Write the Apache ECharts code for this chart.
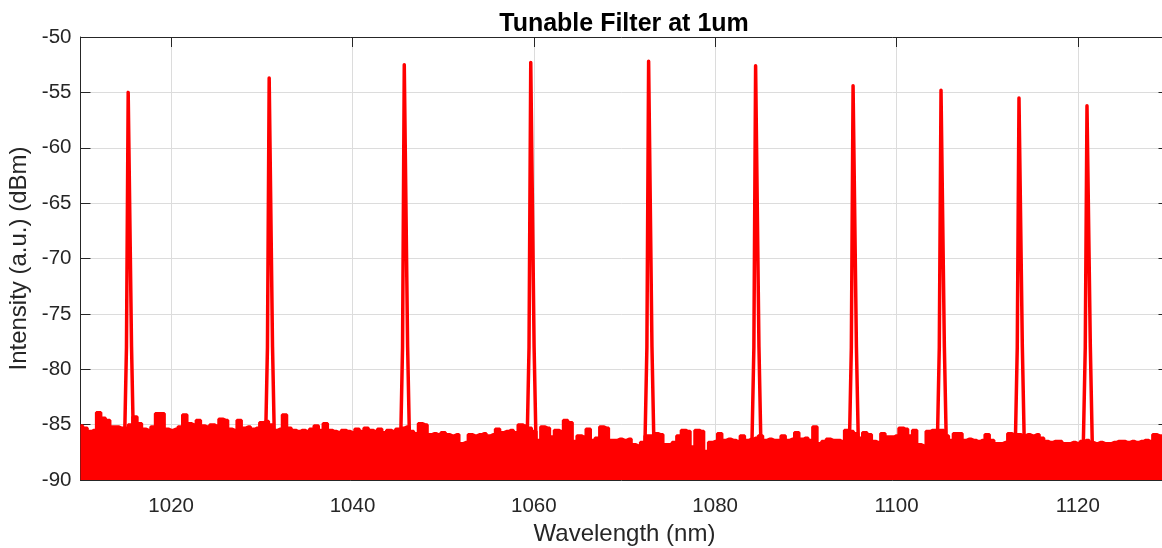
<!DOCTYPE html>
<html>
<head>
<meta charset="utf-8">
<script src="https://cdn.jsdelivr.net/npm/echarts@6/dist/echarts.min.js"></script>
<style>
html,body{margin:0;padding:0;background:#fff;overflow:hidden;}
#chart{width:1162px;height:548px;}
</style>
</head>
<body>
<div id="chart"></div>
<script>
// ---- data ----
const titleText = 'Tunable Filter at 1um';
const xName = 'Wavelength (nm)';
const yName = 'Intensity (a.u.) (dBm)';

// noise floor: upper envelope sampled every 0.5 nm starting at 1010 nm
const noiseStart = 1010;
const noiseStep = 0.5;
const noiseTop = [
  -85.1, -85.3, -85.6, -85.5, -83.9, -84.4, -84.6, -85.2, -85.2, -85.3,
  -85.3, -85.0, -84.3, -84.9, -85.4, -85.5, -85.2, -84.0, -84.0, -85.4,
  -85.5, -85.4, -85.2, -84.1, -84.9, -85.0, -84.6, -85.1, -85.2, -85.0,
  -85.1, -84.5, -84.6, -85.4, -85.5, -84.6, -85.3, -85.2, -85.4, -85.3,
  -84.8, -84.7, -85.0, -85.5, -85.4, -84.1, -85.3, -85.5, -85.6, -85.5,
  -85.6, -85.4, -85.1, -85.5, -84.9, -85.5, -85.6, -85.7, -85.5, -85.6,
  -85.7, -85.4, -85.6, -85.3, -85.5, -85.6, -85.4, -85.7, -85.5, -85.6,
  -85.4, -85.3, -85.2, -85.6, -85.8, -84.9, -85.0, -85.9, -85.8, -85.9,
  -85.7, -85.9, -86.0, -85.9, -86.7, -86.6, -85.9, -86.0, -85.9, -85.8,
  -86.0, -85.9, -85.4, -85.7, -85.6, -85.5, -85.7, -85.0, -85.1, -85.3,
  -85.6, -86.4, -85.2, -85.3, -86.1, -85.5, -85.6, -84.6, -84.8, -86.5,
  -86.0, -86.1, -85.4, -86.4, -86.2, -85.2, -85.3, -86.4, -86.4, -86.3,
  -86.4, -86.3, -86.8, -86.9, -86.6, -86.0, -86.0, -85.8, -85.9, -86.8,
  -86.8, -86.6, -86.0, -85.5, -85.6, -87.0, -85.5, -85.6, -87.4, -86.6,
  -86.5, -85.8, -86.4, -86.3, -86.4, -86.5, -86.0, -86.4, -86.3, -86.2,
  -86.0, -86.4, -86.3, -86.4, -86.4, -86.0, -86.4, -86.3, -85.7, -86.3,
  -86.2, -86.4, -85.2, -86.7, -86.5, -86.3, -86.4, -86.4, -86.5, -85.5,
  -85.6, -85.8, -86.2, -85.7, -85.9, -86.5, -86.6, -85.8, -86.1, -86.1,
  -86.0, -85.3, -85.4, -86.0, -85.5, -86.8, -86.9, -85.6, -85.5, -85.5,
  -85.5, -86.0, -86.4, -85.8, -85.8, -86.4, -86.3, -86.4, -86.5, -86.4,
  -85.9, -86.4, -86.7, -86.7, -86.6, -85.8, -85.9, -85.9, -86.0, -85.9,
  -86.0, -85.9, -86.2, -86.5, -86.6, -86.5, -86.5, -86.7, -86.7, -86.6,
  -86.7, -86.5, -86.4, -86.6, -86.7, -86.6, -86.7, -86.7, -86.6, -86.5,
  -86.5, -86.6, -86.5, -86.6, -86.5, -86.4, -86.5, -85.9, -86.0, -86.9,
  -86.5
];

// filter transmission peaks
const peakWavelengths = [1015.35, 1030.9, 1045.8, 1059.75, 1072.75, 1084.55, 1095.3, 1105.0, 1113.6, 1121.1];
const peakValues      = [-55.0, -53.7, -52.5, -52.3, -52.2, -52.6, -54.4, -54.8, -55.5, -56.2];
// shape of one peak: offsets (nm) from the centre and levels (dBm), null = peak value
const peakShapeOffsets = [-0.5, -0.28, -0.09, 0.09, 0.28, 0.5];
const peakShapeLevels  = [-87.0, -78.0, null, null, -78.0, -87.0];

const xTickLabels = ['1020', '1040', '1060', '1080', '1100', '1120'];
const yTickLabels = ['-90', '-85', '-80', '-75', '-70', '-65', '-60', '-55', '-50'];

// ---- build series ----
const noiseData = noiseTop.map((v, i) => [noiseStart + i * noiseStep, v]);
const peakSeries = peakWavelengths.map((c, k) => ({
  type: 'line',
  xAxisIndex: 0, yAxisIndex: 0,
  showSymbol: false, silent: true, animation: false,
  lineStyle: { color: '#ff0000', width: 3.5, join: 'round' },
  z: 3,
  data: peakShapeOffsets.map((o, j) => [c + o, peakShapeLevels[j] === null ? peakValues[k] : peakShapeLevels[j]])
}));

const FONT = '"Liberation Sans", Arial, Helvetica, sans-serif';
const AX = '#262626';
const GRID = '#dcdcdc';

const chart = echarts.init(document.getElementById('chart'), null, { renderer: 'canvas' });
chart.setOption({
  backgroundColor: '#ffffff',
  animation: false,
  title: {
    text: titleText,
    left: 619, top: 7,
    textAlign: 'center',
    textStyle: { fontFamily: FONT, fontSize: 25, fontWeight: 'bold', color: '#000000' }
  },
  grid: { left: 80.5, width: 1088, top: 37, bottom: 68, containLabel: false, outerBoundsMode: 'none' },
  xAxis: [
    {
      type: 'value', position: 'bottom', min: 1010, max: 1130, splitNumber: 6,
      name: xName, nameLocation: 'middle', nameGap: 40,
      nameTextStyle: { fontFamily: FONT, fontSize: 24, color: AX },
      axisLine: { show: true, onZero: false, lineStyle: { color: AX, width: 1 } },
      axisTick: { show: true, inside: true, length: 10, lineStyle: { color: AX } },
      axisLabel: {
        fontFamily: FONT, fontSize: 20.5, color: AX, margin: 16,
        showMinLabel: false, showMaxLabel: false,
        formatter: v => (xTickLabels.indexOf(String(v)) >= 0 ? String(v) : '')
      },
      splitLine: { show: true, lineStyle: { color: GRID, width: 1 } }
    },
    {
      type: 'value', position: 'top', min: 1010, max: 1130, splitNumber: 6,
      axisLine: { show: true, onZero: false, lineStyle: { color: AX, width: 1 } },
      axisTick: { show: true, inside: true, length: 10, lineStyle: { color: AX } },
      axisLabel: { show: false },
      splitLine: { show: false }
    }
  ],
  yAxis: [
    {
      type: 'value', position: 'left', min: -90, max: -50, interval: 5,
      name: yName, nameLocation: 'middle', nameGap: 41, nameRotate: 90,
      nameTextStyle: { fontFamily: FONT, fontSize: 24, color: AX },
      axisLine: { show: true, onZero: false, lineStyle: { color: AX, width: 1 } },
      axisTick: { show: true, inside: true, length: 10, lineStyle: { color: AX } },
      axisLabel: {
        fontFamily: FONT, fontSize: 20.5, color: AX, margin: 9,
        padding: [7, 0, 0, 0],
        formatter: v => (yTickLabels.indexOf(String(v)) >= 0 ? String(v) : '')
      },
      splitLine: { show: true, lineStyle: { color: GRID, width: 1 } }
    },
    {
      type: 'value', position: 'right', min: -90, max: -50, interval: 5,
      axisLine: { show: true, onZero: false, lineStyle: { color: AX, width: 1 } },
      axisTick: { show: true, inside: true, length: 10, lineStyle: { color: AX } },
      axisLabel: { show: false },
      splitLine: { show: false }
    }
  ],
  series: [
    {
      type: 'line',
      xAxisIndex: 0, yAxisIndex: 0,
      step: 'middle',
      showSymbol: false, silent: true, animation: false,
      lineStyle: { color: '#ff0000', width: 3 },
      areaStyle: { color: '#ff0000', opacity: 1, origin: 'start' },
      z: 2,
      data: noiseData
    }
  ].concat(peakSeries)
});
</script>
</body>
</html>
